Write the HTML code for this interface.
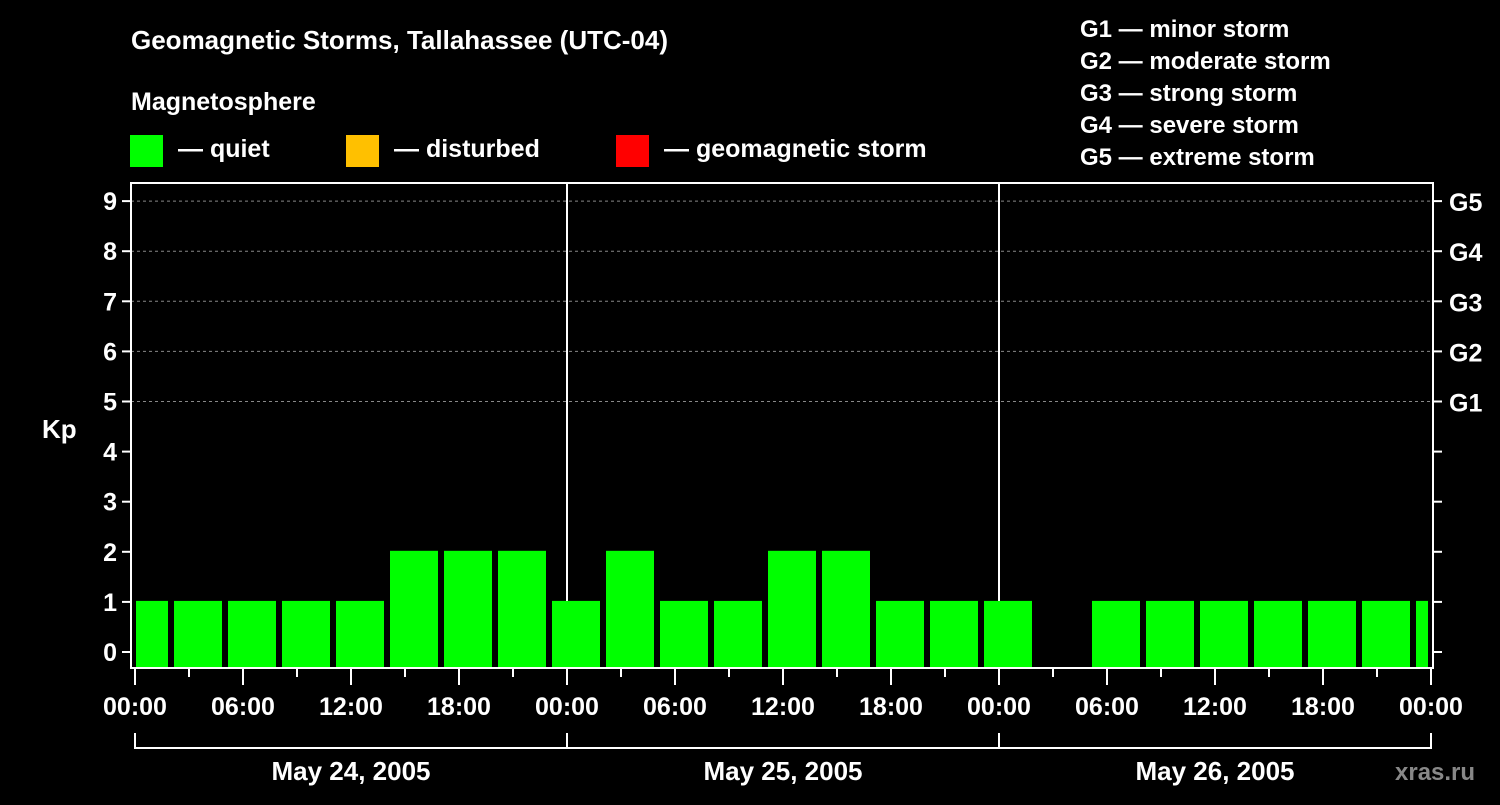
<!DOCTYPE html>
<html><head><meta charset="utf-8"><style>
body{margin:0;background:#000;width:1500px;height:800px;overflow:hidden}
svg text{font-family:"Liberation Sans",sans-serif;font-weight:bold;fill:#fff}
</style></head><body>
<svg id="chart" width="1500" height="800" xmlns="http://www.w3.org/2000/svg">
<rect width="1500" height="800" fill="#000"/>
<text x="131" y="49" font-size="26">Geomagnetic Storms, Tallahassee (UTC-04)</text>
<text x="131" y="110" font-size="25">Magnetosphere</text>
<g><rect x="130" y="135" width="33" height="32" fill="#00ff00"/><text x="178" y="157" font-size="25">— quiet</text></g>
<g><rect x="346" y="135" width="33" height="32" fill="#ffc000"/><text x="394" y="157" font-size="25">— disturbed</text></g>
<g><rect x="616" y="135" width="33" height="32" fill="#ff0000"/><text x="664" y="157" font-size="25">— geomagnetic storm</text></g>
<g font-size="24">
<text x="1080" y="37">G1 — minor storm</text>
<text x="1080" y="69">G2 — moderate storm</text>
<text x="1080" y="101">G3 — strong storm</text>
<text x="1080" y="133">G4 — severe storm</text>
<text x="1080" y="165">G5 — extreme storm</text>
</g>
<text x="42" y="438" font-size="26">Kp</text>
<g id="grid"></g><g id="bars"></g><g id="axes"></g>
<text x="1395" y="780" font-size="24" fill="#888" style="fill:#888">xras.ru</text>
</svg>
<script>
const kpValues=[1,1,1,1,1,2,2,2,1,2,1,1,2,2,1,1,1,null,1,1,1,1,1,1,1];
const startHour=-1; // local hour of first 3h interval
const yTicks=[0,1,2,3,4,5,6,7,8,9];
const gLabels=["G1","G2","G3","G4","G5"];
const gLevels=[5,6,7,8,9];
const xTickLabels=["00:00","06:00","12:00","18:00","00:00","06:00","12:00","18:00","00:00","06:00","12:00","18:00","00:00"];
const dayLabels=["May 24, 2005","May 25, 2005","May 26, 2005"];
const NS="http://www.w3.org/2000/svg";
const X0=135,PXH=18,L=131,R=1433,T=183,B=668;
const x=h=>X0+h*PXH, y=v=>652-v*50.1;
function mk(t,a,p){const e=document.createElementNS(NS,t);for(const k in a)e.setAttribute(k,a[k]);p.appendChild(e);return e;}
const grid=document.getElementById('grid'),bars=document.getElementById('bars'),axes=document.getElementById('axes');
gLevels.forEach(v=>{const l=mk('line',{x1:L,x2:R,y1:y(v),y2:y(v),stroke:'#888','stroke-dasharray':'3,3','stroke-width':1},grid);

});
mk('line',{x1:x(24),x2:x(24),y1:T,y2:B,stroke:'#fff','stroke-width':2},grid);
mk('line',{x1:x(48),x2:x(48),y1:T,y2:B,stroke:'#fff','stroke-width':2},grid);
kpValues.forEach((v,i)=>{if(v===null)return;
let a=x(startHour+i*3)+3,b=x(startHour+i*3+3)-3;a=Math.max(a,X0+1);b=Math.min(b,x(72)-3);
const c=v>=5?'#ff0000':(v>=4?'#ffc000':'#00ff00');
const r=mk('rect',{x:a,y:y(v)-1,width:b-a,height:B-y(v)+1,fill:c},bars);

});
mk('rect',{x:L,y:T,width:R-L,height:B-T,fill:'none',stroke:'#fff','stroke-width':2},axes);
yTicks.forEach(v=>{mk('line',{x1:L-9,x2:L,y1:y(v),y2:y(v),stroke:'#fff','stroke-width':2},axes);
mk('line',{x1:R,x2:R+9,y1:y(v),y2:y(v),stroke:'#fff','stroke-width':2},axes);
const t=mk('text',{x:L-14,y:y(v)+9,'font-size':25,'text-anchor':'end'},axes);t.textContent=v;

});
gLabels.forEach((g,i)=>{const t=mk('text',{x:1449,y:y(gLevels[i])+10,'font-size':25},axes);t.textContent=g;

});
for(let h=0;h<=72;h+=3){mk('line',{x1:x(h),x2:x(h),y1:B,y2:h%6===0?685:677,stroke:'#fff','stroke-width':2},axes);}
xTickLabels.forEach((s,i)=>{const t=mk('text',{x:x(i*6),y:715,'font-size':25,'text-anchor':'middle'},axes);t.textContent=s;

});
mk('line',{x1:x(0),x2:x(72),y1:748,y2:748,stroke:'#fff','stroke-width':2},axes);
for(let d=0;d<=3;d++)mk('line',{x1:x(d*24),x2:x(d*24),y1:733,y2:749,stroke:'#fff','stroke-width':2},axes);
dayLabels.forEach((s,i)=>{const t=mk('text',{x:x(i*24+12),y:780,'font-size':26,'text-anchor':'middle'},axes);t.textContent=s;

});
</script>
</body></html>
